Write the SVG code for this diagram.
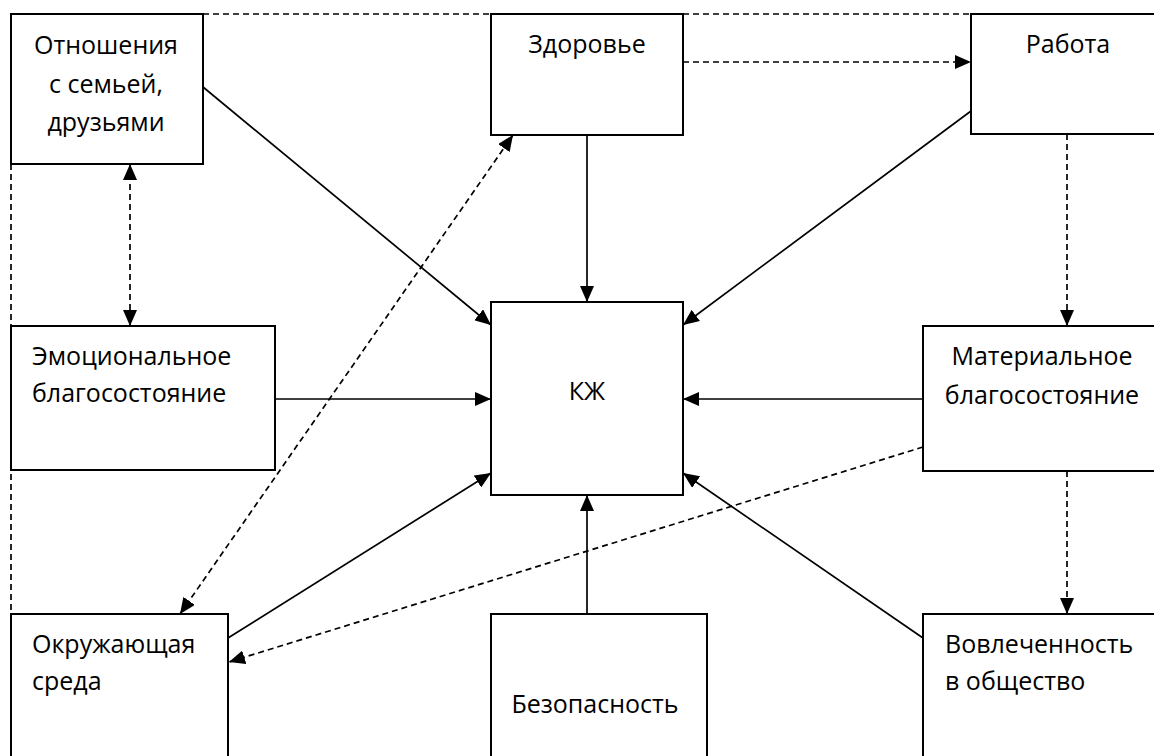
<svg xmlns="http://www.w3.org/2000/svg" width="1154" height="756" viewBox="0 0 1154 756">
<style>
.box{fill:#fff;stroke:#000;stroke-width:2}
.t{font-family:"Open Sans","Liberation Sans",sans-serif;font-size:25px;fill:#000}
.c{text-anchor:middle}
.ln{stroke:#000;stroke-width:1.7;fill:none}
.d{stroke-dasharray:6,4}
</style>
<defs>
<marker id="ah" markerUnits="userSpaceOnUse" markerWidth="16" markerHeight="14" viewBox="0 0 16 14" refX="16" refY="7" orient="auto-start-reverse">
<path d="M0,0 L16,7 L0,14 Z" fill="#000"/>
</marker>
</defs>
<rect width="1154" height="756" fill="#fff"/>
<g id="connectors">
<line class="ln d" x1="203" y1="14" x2="1154" y2="14"/>
<line class="ln d" x1="11" y1="164" x2="11" y2="614"/>
<line class="ln d" x1="683" y1="62" x2="971" y2="62" marker-end="url(#ah)"/>
<line class="ln d" x1="1067" y1="134" x2="1067" y2="326" marker-end="url(#ah)"/>
<line class="ln d" x1="1067" y1="471" x2="1067" y2="614" marker-end="url(#ah)"/>
<line class="ln d" x1="130" y1="164" x2="130" y2="326" marker-start="url(#ah)" marker-end="url(#ah)"/>
<line class="ln d" x1="180" y1="614" x2="513" y2="135" marker-start="url(#ah)" marker-end="url(#ah)"/>
<line class="ln d" x1="923" y1="447" x2="229" y2="662" marker-end="url(#ah)"/>
<line class="ln" x1="587" y1="135" x2="587" y2="302" marker-end="url(#ah)"/>
<line class="ln" x1="203" y1="87" x2="491" y2="325" marker-end="url(#ah)"/>
<line class="ln" x1="971" y1="111" x2="683" y2="325" marker-end="url(#ah)"/>
<line class="ln" x1="275" y1="399" x2="491" y2="399" marker-end="url(#ah)"/>
<line class="ln" x1="923" y1="399" x2="683" y2="399" marker-end="url(#ah)"/>
<line class="ln" x1="228" y1="638" x2="491" y2="473" marker-end="url(#ah)"/>
<line class="ln" x1="923" y1="638" x2="683" y2="473" marker-end="url(#ah)"/>
<line class="ln" x1="587" y1="614" x2="587" y2="495" marker-end="url(#ah)"/>
</g>
<g id="family">
<rect class="box" x="11" y="14" width="192" height="150"/>
<text class="t c" x="106" y="54">Отношения</text>
<text class="t c" x="106" y="93">с семьей,</text>
<text class="t c" x="106" y="131">друзьями</text>
</g>
<g id="health">
<rect class="box" x="491" y="14" width="192" height="121"/>
<text class="t c" x="587" y="53">Здоровье</text>
</g>
<g id="work">
<rect class="box" x="971" y="14" width="190" height="120"/>
<text class="t c" x="1068" y="53">Работа</text>
</g>
<g id="emotional">
<rect class="box" x="11" y="326" width="264" height="144"/>
<text class="t" x="32" y="365">Эмоциональное</text>
<text class="t" x="32" y="402">благосостояние</text>
</g>
<g id="kzh">
<rect class="box" x="491" y="302" width="192" height="193"/>
<text class="t c" x="587" y="400">КЖ</text>
</g>
<g id="material">
<rect class="box" x="923" y="326" width="240" height="145"/>
<text class="t c" x="1042" y="365">Материальное</text>
<text class="t c" x="1042" y="404">благосостояние</text>
</g>
<g id="environment">
<rect class="box" x="11" y="614" width="217" height="150"/>
<text class="t" x="32" y="653">Окружающая</text>
<text class="t" x="32" y="690">среда</text>
</g>
<g id="safety">
<rect class="box" x="491" y="614" width="216" height="150"/>
<text class="t c" x="595" y="713">Безопасность</text>
</g>
<g id="society">
<rect class="box" x="923" y="614" width="240" height="150"/>
<text class="t" x="945" y="653">Вовлеченность</text>
<text class="t" x="945" y="690">в общество</text>
</g>
</svg>
